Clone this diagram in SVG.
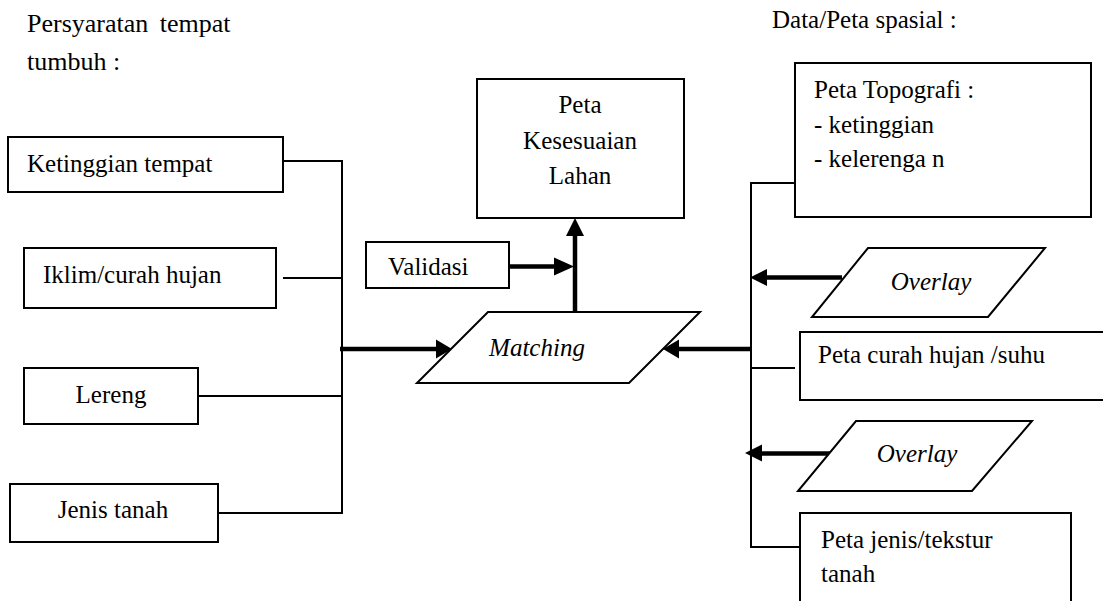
<svg xmlns="http://www.w3.org/2000/svg" width="1103" height="601" viewBox="0 0 1103 601" font-family="'Liberation Serif', 'Times New Roman', 'DejaVu Serif', serif" font-size="25">
<defs>
<style>
text{font-family:'Liberation Serif','Times New Roman','DejaVu Serif',serif;fill:#000}
.it{font-style:italic}
.box{fill:#fff;stroke:#000;stroke-width:2}
.ln{fill:none;stroke:#000;stroke-width:2}
.bold{fill:none;stroke:#000;stroke-width:4.5}
.head{fill:#000;stroke:none}
</style>
</defs>
<rect width="1103" height="601" fill="#fff"/>
<g id="headings">
<text x="27" y="32" font-size="26" word-spacing="5">Persyaratan tempat</text>
<text x="27" y="70" font-size="26">tumbuh :</text>
<text x="772" y="28">Data/Peta spasial :</text>
</g>
<g id="connectors">
<polyline class="ln" points="283,161 342,161 342,513 217,513"/>
<line class="ln" x1="283" y1="278" x2="342" y2="278"/>
<line class="ln" x1="198" y1="396" x2="342" y2="396"/>
<line class="bold" x1="340" y1="349" x2="438" y2="349"/>
<polygon class="head" points="452,349 436,339.5 436,358.5"/>
<line class="bold" x1="751" y1="349" x2="677" y2="349"/>
<polygon class="head" points="663,349 679,339.5 679,358.5"/>
<line class="bold" x1="575" y1="312" x2="575" y2="233"/>
<polygon class="head" points="575,218 566,236 584,236"/>
<line class="bold" x1="509" y1="266.5" x2="556" y2="266.5"/>
<polygon class="head" points="574,266.5 554,257.5 554,275.5"/>
<polyline class="ln" points="795,183 751,183 751,547 801,547"/>
<line class="ln" x1="751" y1="368" x2="795" y2="368"/>
<line class="bold" x1="842" y1="277.5" x2="765" y2="277.5"/>
<polygon class="head" points="750,277.5 767,269 767,286"/>
<line class="bold" x1="830" y1="453.5" x2="760" y2="453.5"/>
<polygon class="head" points="745,453 762,444.5 762,461.5"/>
</g>
<g id="n-ketinggian">
<rect class="box" x="8" y="137" width="275" height="55"/>
<text x="27" y="172">Ketinggian tempat</text>
</g>
<g id="n-iklim">
<rect class="box" x="24" y="248" width="252" height="60"/>
<text x="43" y="283">Iklim/curah hujan</text>
</g>
<g id="n-lereng">
<rect class="box" x="24" y="368" width="174" height="56"/>
<text x="111" y="403" text-anchor="middle">Lereng</text>
</g>
<g id="n-jenis">
<rect class="box" x="10" y="484" width="208" height="58"/>
<text x="113" y="518" text-anchor="middle">Jenis tanah</text>
</g>
<g id="n-peta-kesesuaian">
<rect class="box" x="477" y="79" width="207" height="139"/>
<text x="580" y="113" text-anchor="middle">Peta</text>
<text x="580" y="149" text-anchor="middle">Kesesuaian</text>
<text x="580" y="184" text-anchor="middle">Lahan</text>
</g>
<g id="n-validasi">
<rect class="box" x="366" y="242" width="143" height="46"/>
<text x="388" y="275">Validasi</text>
</g>
<g id="n-matching">
<polygon class="box" points="488,312 700,312 629,383 417,383"/>
<text class="it" x="537" y="356" text-anchor="middle">Matching</text>
</g>
<g id="n-topografi">
<rect class="box" x="795" y="63" width="296" height="154"/>
<text x="814" y="98">Peta Topografi :</text>
<text x="814" y="133">- ketinggian</text>
<text x="814" y="167">- kelerenga n</text>
</g>
<g id="n-overlay1">
<polygon class="box" points="868,248 1045,248 988,317 812,317"/>
<text class="it" x="931" y="290" text-anchor="middle">Overlay</text>
</g>
<g id="n-curah">
<rect class="box" x="800" y="332" width="320" height="68"/>
<text x="818" y="363">Peta curah hujan /suhu</text>
</g>
<g id="n-overlay2">
<polygon class="box" points="856,421 1032,421 972,491 798,491"/>
<text class="it" x="917" y="462" text-anchor="middle">Overlay</text>
</g>
<g id="n-jenis-tekstur">
<rect class="box" x="800" y="513" width="271" height="110"/>
<text x="821" y="548">Peta jenis/tekstur</text>
<text x="821" y="582">tanah</text>
</g>
</svg>
